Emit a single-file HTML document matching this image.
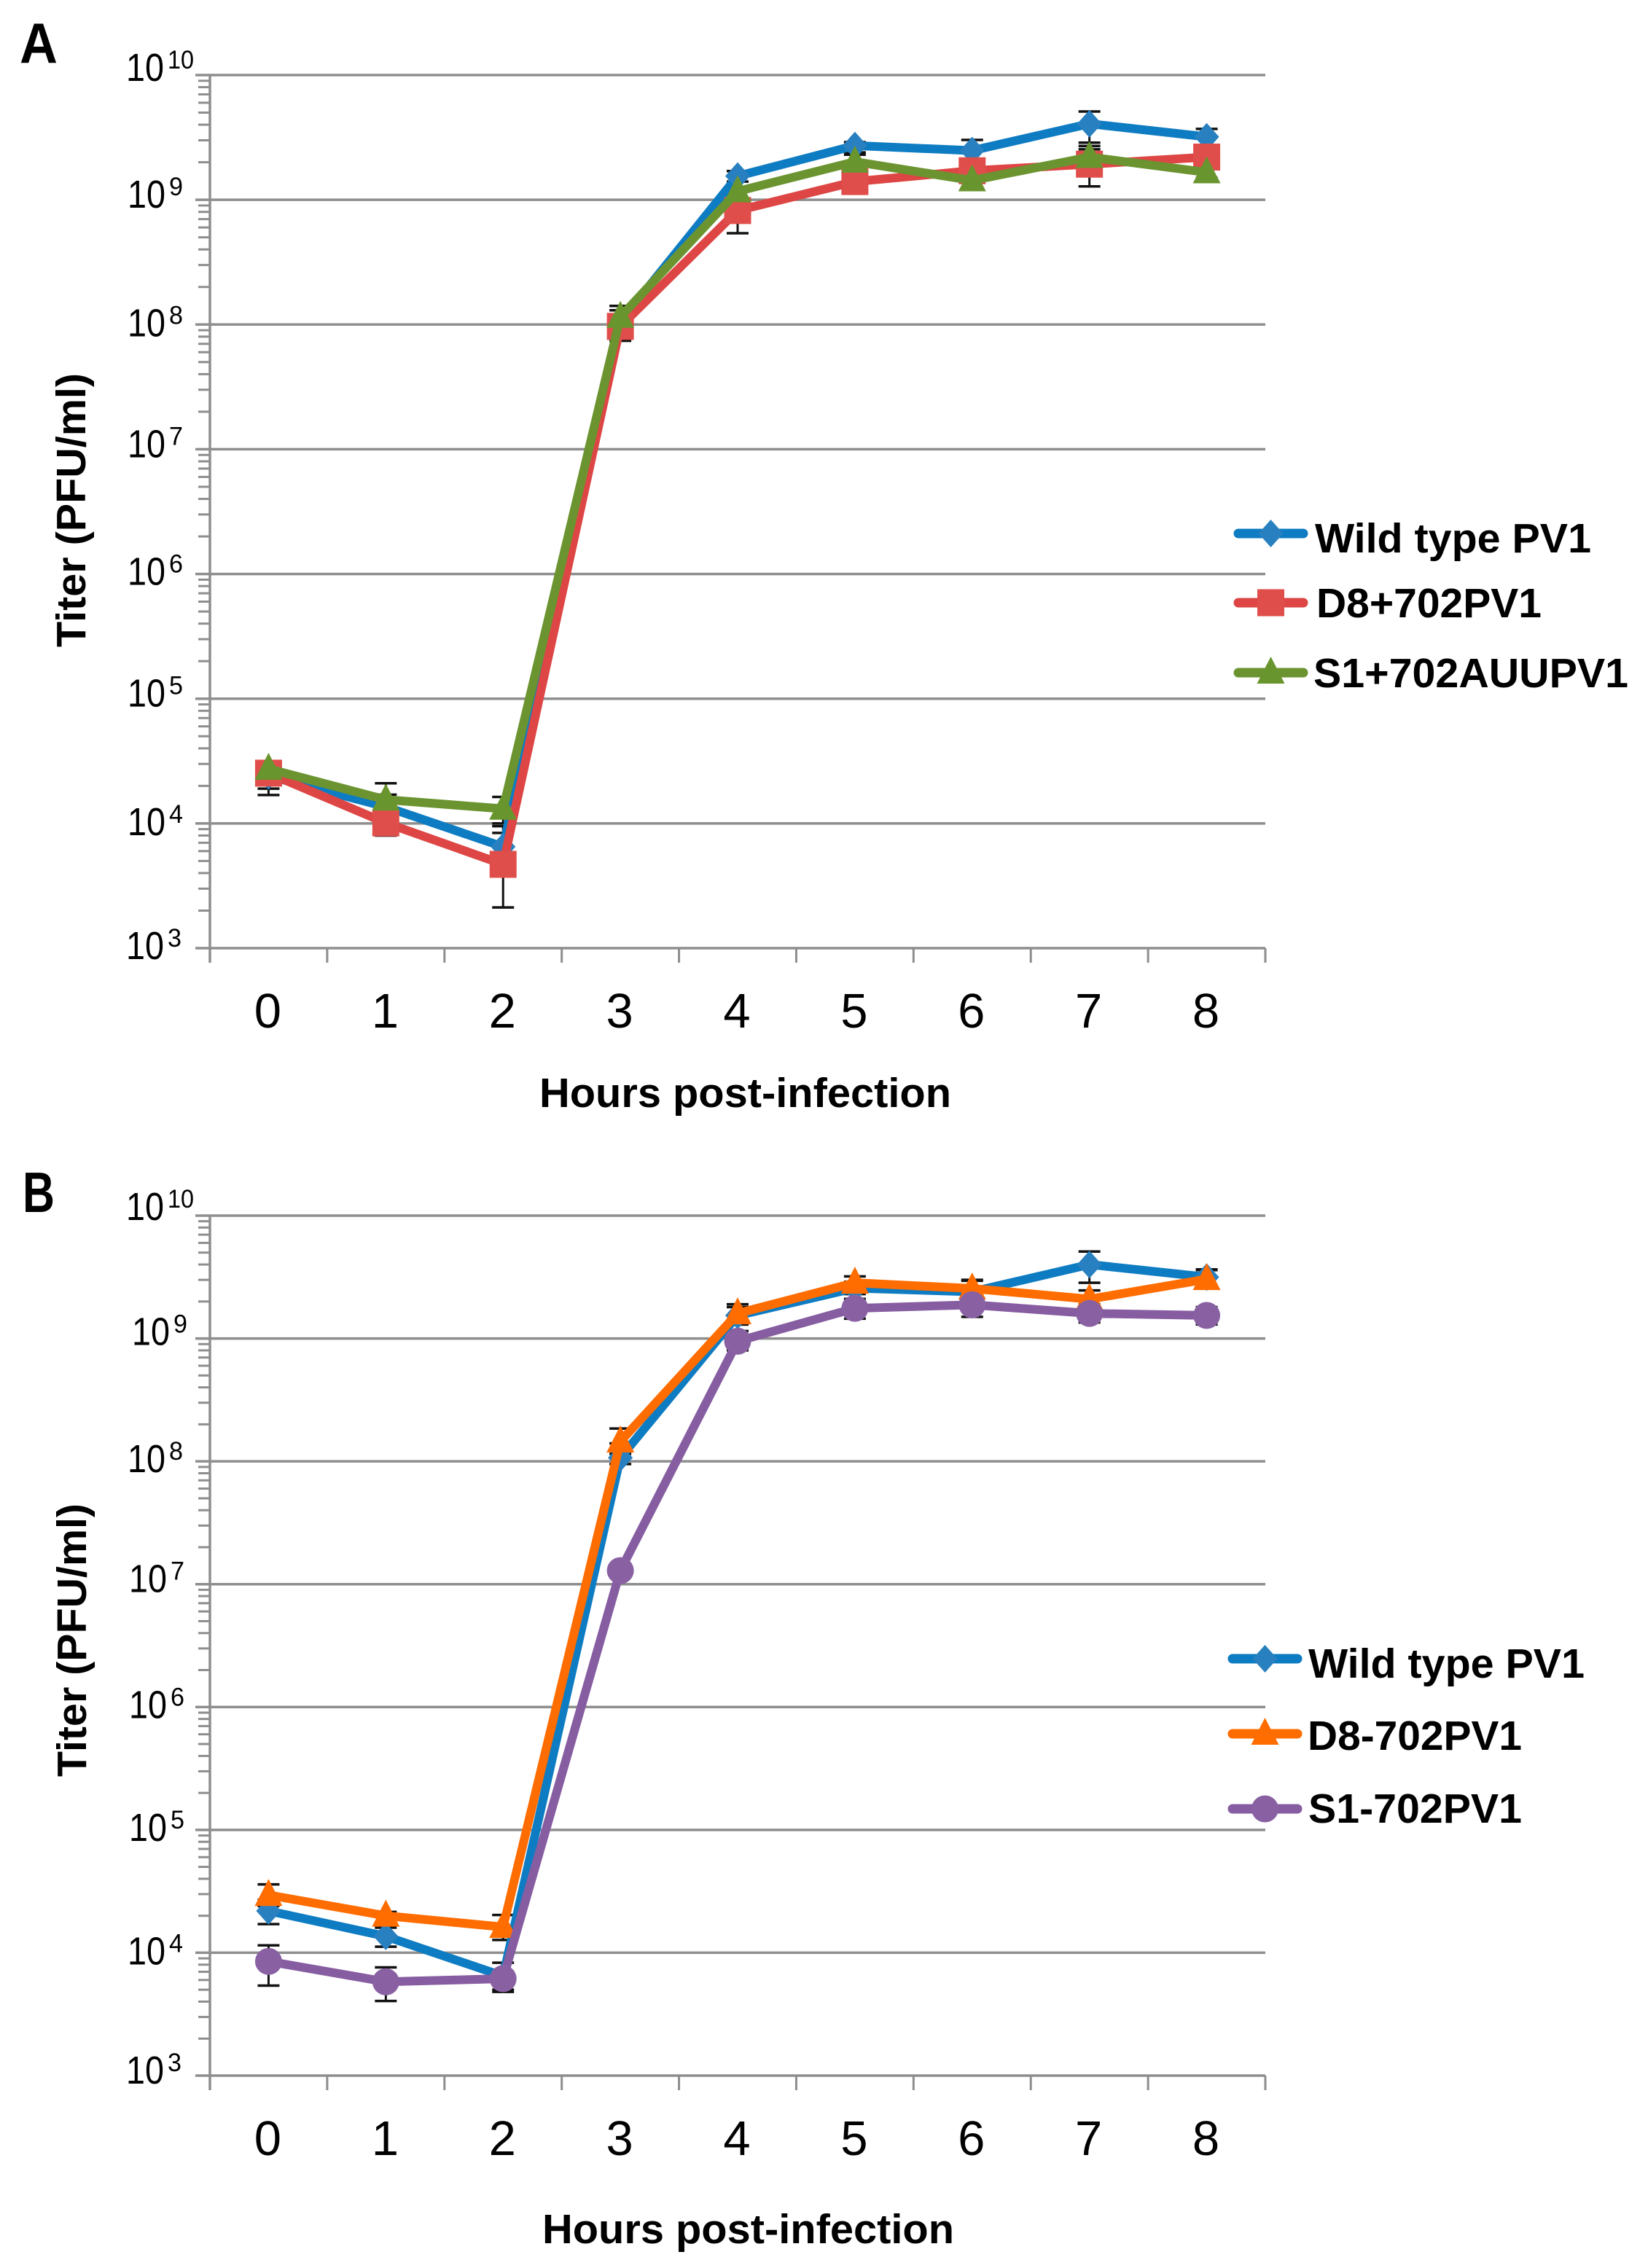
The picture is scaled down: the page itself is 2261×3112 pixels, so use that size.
<!DOCTYPE html>
<html lang="en">
<head>
<meta charset="utf-8">
<title>Titer time-course charts</title>
<style>
html,body{margin:0;padding:0;background:#fff;}
svg{display:block;}
text{font-family:"Liberation Sans",sans-serif;fill:#000;}
.bold{font-weight:700;}
</style>
</head>
<body>
<svg id="figure" xmlns="http://www.w3.org/2000/svg" width="2261" height="3112" viewBox="0 0 2261 3112">
<rect x="0" y="0" width="2261" height="3112" fill="#ffffff"/>
<text class="bold" x="27" y="86" font-size="78" textLength="52" lengthAdjust="spacingAndGlyphs">A</text>
<text class="bold" x="31" y="1663" font-size="78" textLength="44" lengthAdjust="spacingAndGlyphs">B</text>
<text class="bold" font-size="57" transform="translate(117 888) rotate(-90)" textLength="376" lengthAdjust="spacingAndGlyphs">Titer (PFU/ml)</text>
<text class="bold" font-size="57" transform="translate(118 2438) rotate(-90)" textLength="375" lengthAdjust="spacingAndGlyphs">Titer (PFU/ml)</text>
<text class="bold" x="740" y="1519" font-size="57" textLength="565" lengthAdjust="spacingAndGlyphs">Hours post-infection</text>
<text class="bold" x="744" y="3078" font-size="57" textLength="565" lengthAdjust="spacingAndGlyphs">Hours post-infection</text>
<text class="bold" x="1804" y="758" font-size="57" textLength="379" lengthAdjust="spacingAndGlyphs">Wild type PV1</text>
<text class="bold" x="1806" y="847" font-size="57" textLength="309" lengthAdjust="spacingAndGlyphs">D8+702PV1</text>
<text class="bold" x="1802" y="943" font-size="57" textLength="432" lengthAdjust="spacingAndGlyphs">S1+702AUUPV1</text>
<text class="bold" x="1795" y="2302" font-size="57" textLength="379" lengthAdjust="spacingAndGlyphs">Wild type PV1</text>
<text class="bold" x="1794" y="2401" font-size="57" textLength="294" lengthAdjust="spacingAndGlyphs">D8-702PV1</text>
<text class="bold" x="1795" y="2501" font-size="57" textLength="293" lengthAdjust="spacingAndGlyphs">S1-702PV1</text>
</svg>
<script>
// ---- Shared axis data ----
const hours = ["0","1","2","3","4","5","6","7","8"];
const decadeExponents = [10,9,8,7,6,5,4,3];
const minorMultipliers = [2,3,4,5,6,7,8,9];

// ---- Panel A values (PFU/ml) ----
const wildA   = [2.4e4,1.36e4,6.5e3,1.05e8,1.55e9,2.72e9,2.48e9,4.07e9,3.2e9];
const wildAHi = [2.9e4,1.7e4,9.5e3,1.3e8,1.7e9,2.9e9,3.02e9,5.1e9,3.7e9];
const wildALo = [1.69e4,1.07e4,4.8e3,8e7,1.2e9,2.3e9,2e9,2.87e9,2.7e9];
const d8A     = [2.53e4,1.01e4,4.7e3,9.66e7,8.2e8,1.4e9,1.71e9,1.93e9,2.2e9];
const d8AHi   = [2.8e4,1.3e4,8.4e3,1.2e8,9.5e8,1.6e9,2.1e9,2.7e9,2.6e9];
const d8ALo   = [1.9e4,8e3,2.12e3,7.4e7,5.4e8,1.15e9,1.4e9,1.28e9,1.8e9];
const s1A     = [2.74e4,1.55e4,1.31e4,1.15e8,1.17e9,2.02e9,1.43e9,2.2e9,1.66e9];
const s1AHi   = [2.9e4,2.1e4,1.63e4,1.41e8,1.4e9,2.4e9,1.65e9,2.54e9,2e9];
const s1ALo   = [2.2e4,1.2e4,1e4,9e7,9.5e8,1.7e9,1.2e9,1.9e9,1.5e9];

// ---- Panel B values (PFU/ml) ----
const wildB   = [2.19e4,1.36e4,6.46e3,1.07e8,1.54e9,2.57e9,2.4e9,4e9,3.16e9];
const wildBHi = [2.7e4,1.6e4,8.3e3,1.4e8,1.8e9,2.9e9,3e9,5.1e9,3.65e9];
const wildBLo = [1.71e4,1.12e4,5e3,9.5e7,1.3e9,2.3e9,2e9,2.84e9,2.7e9];
const d8B     = [2.95e4,2e4,1.62e4,1.45e8,1.6e9,2.84e9,2.55e9,2.09e9,3.04e9];
const d8BHi   = [3.6e4,2.15e4,2.03e4,1.85e8,1.9e9,3.2e9,2.95e9,2.46e9,3.6e9];
const d8BLo   = [2.4e4,1.7e4,1.27e4,1.15e8,1.3e9,2.5e9,2.2e9,1.8e9,2.6e9];
const s1B     = [8.5e3,5.8e3,6.15e3,1.29e7,9.5e8,1.76e9,1.88e9,1.6e9,1.54e9];
const s1BHi   = [1.15e4,7.6e3,7e3,1.45e7,1.15e9,2.1e9,2.3e9,1.9e9,1.8e9];
const s1BLo   = [5.4e3,4.05e3,4.8e3,1.15e7,8e8,1.45e9,1.5e9,1.35e9,1.3e9];

const SVGNS = "http://www.w3.org/2000/svg";
const root = document.getElementById("figure");
const GRID = "#8e8e8e";

function make(tag, attrs, parent) {
  const node = document.createElementNS(SVGNS, tag);
  for (const key in attrs) node.setAttribute(key, attrs[key]);
  parent.appendChild(node);
  return node;
}

function drawMarker(shape, color, x, y, parent, name) {
  let node;
  if (shape === "diamond") {
    node = make("polygon", {points:(x)+","+(y-19)+" "+(x+17)+","+y+" "+(x)+","+(y+19)+" "+(x-17)+","+y, fill:color}, parent);
  } else if (shape === "square") {
    node = make("rect", {x:x-18.5, y:y-18.5, width:37, height:37, fill:color}, parent);
  } else if (shape === "triangle") {
    node = make("polygon", {points:(x)+","+(y-22)+" "+(x+19)+","+(y+15)+" "+(x-19)+","+(y+15), fill:color}, parent);
  } else {
    node = make("circle", {cx:x, cy:y, r:18.5, fill:color}, parent);
  }
  
  
}

function drawPanel(panel) {
  const group = make("g", {}, root);
  
  

  const xLeft = panel.xLeft, xRight = panel.xRight;
  const step = (xRight - xLeft) / hours.length;
  const yTop = panel.yTop, yBottom = panel.yBottom;
  const topExp = decadeExponents[0];
  const bottomExp = decadeExponents[decadeExponents.length - 1];
  const xScale = function (i) { return xLeft + step * (i + 0.5); };
  const yScale = function (v) {
    return yBottom - (Math.log10(v) - bottomExp) * (yBottom - yTop) / (topExp - bottomExp);
  };

  // gridlines, minor ticks and y tick labels
  decadeExponents.forEach(function (exp, k) {
    const gy = yScale(Math.pow(10, exp));
    const gridline = make("line", {x1:xLeft - 20, x2:xRight, y1:gy, y2:gy, stroke:GRID, "stroke-width":3.5}, group);
    
    

    if (exp > bottomExp) {
      minorMultipliers.forEach(function (m) {
        const my = yScale(m * Math.pow(10, exp - 1));
        const minor = make("line", {x1:xLeft - 16, x2:xLeft, y1:my, y2:my, stroke:GRID, "stroke-width":3}, group);
        
        
      });
    }

    const base = gy + panel.labelNudgeY[k];
    const lx = panel.labelX[k];
    const mantissa = make("text", {x:lx, y:base, "font-size":54, textLength:52, lengthAdjust:"spacingAndGlyphs"}, group);
    mantissa.textContent = "10";
    
    
    const power = make("text", {x:lx + 57, y:base - 17, "font-size":35}, group);
    power.textContent = String(exp);
    if (exp === 10) { power.setAttribute("textLength", 36); power.setAttribute("lengthAdjust", "spacingAndGlyphs"); }
    else { power.setAttribute("textLength", 19); power.setAttribute("lengthAdjust", "spacingAndGlyphs"); }
    
    
  });

  // axis lines
  const yAxis = make("line", {x1:xLeft, x2:xLeft, y1:yTop, y2:yBottom + 20, stroke:GRID, "stroke-width":3.5}, group);
  
  

  // x ticks and labels
  for (let t = 1; t <= hours.length; t++) {
    const tx = xLeft + step * t;
    const tick = make("line", {x1:tx, x2:tx, y1:yBottom, y2:yBottom + 20, stroke:GRID, "stroke-width":3}, group);
    
    
  }
  hours.forEach(function (label, i) {
    const txt = make("text", {x:xScale(i) - 1, y:panel.xLabelBaseline, "font-size":67, "text-anchor":"middle"}, group);
    txt.textContent = label;
    
    
  });

  // error bars sit under every series
  panel.series.forEach(function (s) {
    s.values.forEach(function (v, i) {
      const ex = xScale(i);
      const hiY = yScale(s.hi[i]);
      const loY = yScale(s.lo[i]);
      const stem = make("line", {x1:ex, x2:ex, y1:hiY, y2:loY, stroke:"#111", "stroke-width":3}, group);
      
      
      const capHi = make("line", {x1:ex - 15, x2:ex + 15, y1:hiY, y2:hiY, stroke:"#111", "stroke-width":3.5}, group);
      
      
      const capLo = make("line", {x1:ex - 15, x2:ex + 15, y1:loY, y2:loY, stroke:"#111", "stroke-width":3.5}, group);
      
      
    });
  });

  // series lines + markers
  panel.series.forEach(function (s) {
    const pts = s.values.map(function (v, i) { return xScale(i) + "," + yScale(v); }).join(" ");
    const line = make("polyline", {points:pts, fill:"none", stroke:s.lineColor, "stroke-width":12, "stroke-linejoin":"round", "stroke-linecap":"round"}, group);
    
    
    s.values.forEach(function (v, i) {
      drawMarker(s.shape, s.markerColor, xScale(i), yScale(v), group, s.key + '-point');
    });
    // legend glyph
    const ly = s.legendY;
    const legendLine = make("line", {x1:panel.legendX1, x2:panel.legendX2, y1:ly, y2:ly, stroke:s.lineColor, "stroke-width":13, "stroke-linecap":"round"}, group);
    
    
    drawMarker(s.shape, s.markerColor, (panel.legendX1 + panel.legendX2) / 2, ly, group, s.key + '-legend-marker');
  });
}

const BLUE_L = "#0e7cc2", BLUE_M = "#2980c0";
const RED_L = "#dd4644", RED_M = "#e04e4b";
const GREEN_L = "#6b9430", GREEN_M = "#69952e";
const ORANGE = "#ff6c00";
const PURPLE_L = "#865da1", PURPLE_M = "#8961a3";

drawPanel({
  name:"panel-a-chart", xLeft:288, xRight:1736, yTop:103, yBottom:1301,
  labelNudgeY:[8,11,16,11,15,11,16,15],
  labelX:[173,175,175,175,175,175,175,173],
  xLabelBaseline:1410, legendX1:1699, legendX2:1788,
  series:[
    {key:"wild-type", values:wildA, hi:wildAHi, lo:wildALo, shape:"diamond", lineColor:BLUE_L, markerColor:BLUE_M, legendY:732},
    {key:"d8-702", values:d8A, hi:d8AHi, lo:d8ALo, shape:"square", lineColor:RED_L, markerColor:RED_M, legendY:827},
    {key:"s1-702auu", values:s1A, hi:s1AHi, lo:s1ALo, shape:"triangle", lineColor:GREEN_L, markerColor:GREEN_M, legendY:923}
  ]
});

drawPanel({
  name:"panel-b-chart", xLeft:288, xRight:1736, yTop:1668, yBottom:2848,
  labelNudgeY:[6,9,15,11,15,15,16,11],
  labelX:[173,181,175,177,177,177,175,173],
  xLabelBaseline:2957, legendX1:1691, legendX2:1780,
  series:[
    {key:"wild-type", values:wildB, hi:wildBHi, lo:wildBLo, shape:"diamond", lineColor:BLUE_L, markerColor:BLUE_M, legendY:2276},
    {key:"d8-702", values:d8B, hi:d8BHi, lo:d8BLo, shape:"triangle", lineColor:ORANGE, markerColor:ORANGE, legendY:2379},
    {key:"s1-702", values:s1B, hi:s1BHi, lo:s1BLo, shape:"circle", lineColor:PURPLE_L, markerColor:PURPLE_M, legendY:2482}
  ]
});
</script>
</body>
</html>
